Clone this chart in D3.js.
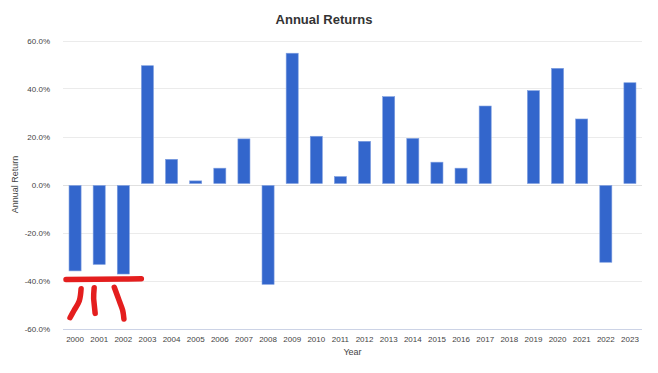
<!DOCTYPE html>
<html>
<head>
<meta charset="utf-8">
<script src="https://cdn.jsdelivr.net/npm/d3@7"></script>
<style>
  body { margin: 0; background: #fff; }
  text { font-family: "Liberation Sans", Arial, sans-serif; }
</style>
</head>
<body>
<div id="chart"></div>
<script>
// data
var years = ["2000","2001","2002","2003","2004","2005","2006","2007","2008","2009","2010","2011",
             "2012","2013","2014","2015","2016","2017","2018","2019","2020","2021","2022","2023"];
var returns = [-36.0, -33.3, -37.3, 49.5, 10.5, 1.5, 6.8, 19.0, -41.6, 54.7, 20.1, 3.3,
               18.0, 36.6, 19.2, 9.3, 6.8, 32.7, 0.0, 39.1, 48.4, 27.3, -32.4, 42.4];
var yTicks = [-60, -40, -20, 0, 20, 40, 60];

var width = 658,
    height = 373;
var margin = {top: 40.5, right: 16, bottom: 44.5, left: 63};

var svg = d3.select("#chart")
    .append("svg")
    .attr("width", width)
    .attr("height", height);

var x = d3.scaleBand()
    .domain(years)
    .range([margin.left, width - margin.right])
    .paddingInner(0.5)
    .paddingOuter(0.25);

var y = d3.scaleLinear()
    .domain([-60, 60])
    .range([height - margin.bottom, margin.top]);

// gridlines
svg.append("g")
    .selectAll("line")
    .data(yTicks)
    .join("line")
    .attr("x1", margin.left)
    .attr("x2", width - margin.right)
    .attr("y1", d => Math.round(y(d)) + 0.5)
    .attr("y2", d => Math.round(y(d)) + 0.5)
    .attr("stroke", d => d == -60 ? "#ccd3e6" : (d == 0 ? "#e0e0e0" : "#ebebeb"))
    .attr("stroke-width", 1);

// y tick labels
var yAxis = g => g
    .attr("transform", `translate(${margin.left - 10},0)`)
    .call(d3.axisLeft(y).tickValues(yTicks).tickSize(0).tickFormat(d => d.toFixed(1) + "%"))
    .call(g => g.selectAll(".domain").remove())
    .call(g => g.selectAll("text")
        .attr("fill", "#444")
        .style("font-size", "8px")
        .style("font-family", "'Liberation Sans', Arial, sans-serif"));

svg.append("g").call(yAxis);

// x tick labels
var xAxis = g => g
    .attr("transform", `translate(0,${height - margin.bottom + 5})`)
    .call(d3.axisBottom(x).tickSize(0))
    .call(g => g.selectAll(".domain").remove())
    .call(g => g.selectAll("text")
        .attr("fill", "#444")
        .style("font-size", "8px")
        .style("font-family", "'Liberation Sans', Arial, sans-serif"));

svg.append("g").call(xAxis);

// bars
svg.append("g")
    .selectAll("rect")
    .data(years.map((d, i) => ({year: d, value: returns[i]})))
    .join("rect")
    .attr("x", d => x(d.year))
    .attr("width", x.bandwidth())
    .attr("y", d => d.value >= 0 ? y(d.value) : y(0) + 1)
    .attr("height", d => d.value == 0 ? 0 : Math.abs(y(d.value) - y(0)) - 1)
    .attr("fill", "#3366cc")
    .attr("stroke", "#7f9fe0")
    .attr("stroke-width", 0.6);

// titles
svg.append("text")
    .attr("x", 324)
    .attr("y", 24)
    .attr("text-anchor", "middle")
    .style("font-size", "13px")
    .style("font-weight", "bold")
    .attr("fill", "#333")
    .text("Annual Returns");

svg.append("text")
    .attr("transform", `translate(18,${y(0)}) rotate(-90)`)
    .attr("text-anchor", "middle")
    .style("font-size", "9px")
    .attr("fill", "#444")
    .text("Annual Return");

svg.append("text")
    .attr("x", (margin.left + width - margin.right) / 2)
    .attr("y", 355)
    .attr("text-anchor", "middle")
    .style("font-size", "9px")
    .attr("fill", "#444")
    .text("Year");

// red hand-drawn mark under the first three bars
var bw = x.bandwidth();
var x0 = x("2000"), x1 = x("2001"), x2 = x("2002");
var strokes = [
  [[x0 - 3, y(-39.6)], [x2 + bw / 2, y(-39.4)], [x2 + bw + 12, y(-39.3)]],
  [[x0 + bw * 1.0, y(-43.4)], [x0 + bw * 0.85, y(-48.5)], [x0 + bw * 0.4, y(-52.6)], [x0 + 1, y(-55.5)]],
  [[x1 + 1, y(-43.0)], [x1 + 0.5, y(-47.5)], [x1 + 2, y(-53.7)]],
  [[x2 - 3, y(-42.8)], [x2 + 2, y(-48.5)], [x2 + bw * 0.45, y(-52.5)], [x2 + bw * 0.55, y(-56.0)]]
];
var line = d3.line().curve(d3.curveCatmullRom);
svg.append("g")
    .selectAll("path")
    .data(strokes)
    .join("path")
    .attr("d", d => line(d))
    .attr("fill", "none")
    .attr("stroke", "#e41e1e")
    .attr("stroke-width", 5.5)
    .attr("stroke-linecap", "round")
    .attr("stroke-linejoin", "round");
</script>
</body>
</html>
